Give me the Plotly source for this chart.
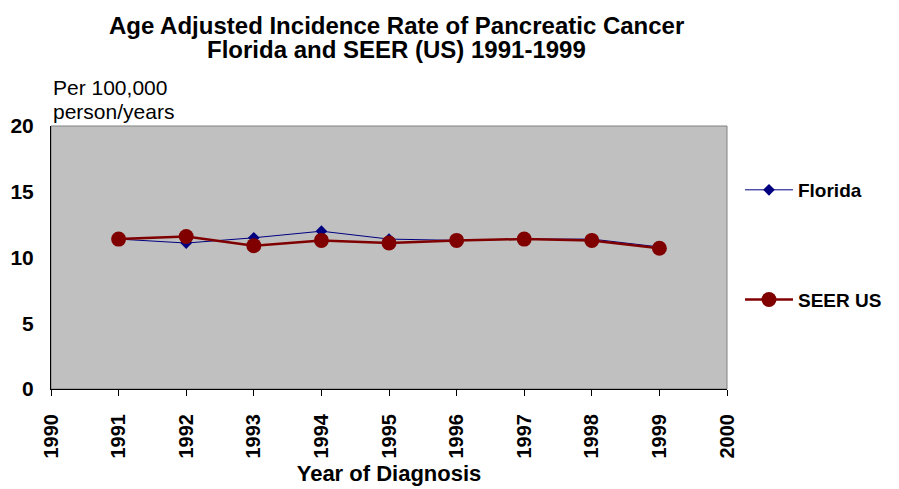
import plotly.graph_objects as go

years = [1991, 1992, 1993, 1994, 1995, 1996, 1997, 1998, 1999]
florida = [11.4, 11.1, 11.5, 12.0, 11.4, 11.3, 11.4, 11.4, 10.8]
seer_us = [11.4, 11.6, 10.9, 11.3, 11.1, 11.3, 11.4, 11.3, 10.7]
x_ticks = list(range(1990, 2001))
y_ticks = [0, 5, 10, 15, 20]
title_lines = ["Age Adjusted Incidence Rate of Pancreatic Cancer",
               "Florida and SEER (US) 1991-1999"]

font = "Liberation Sans, Arial, sans-serif"

fig = go.Figure()
fig.add_trace(go.Scatter(
    x=years, y=florida, name="<b>Florida</b>", mode="lines+markers",
    line=dict(color="#000080", width=1),
    marker=dict(symbol="diamond", size=9, color="#000080"),
    legendgroup="a",
))
fig.add_trace(go.Scatter(
    x=years, y=seer_us, name="<b>SEER US</b>", mode="lines+markers",
    line=dict(color="#800000", width=2.5),
    marker=dict(symbol="circle", size=15, color="#800000"),
    legendgroup="b",
))

fig.update_layout(
    width=891, height=481,
    margin=dict(l=43, r=172, t=118, b=100, autoexpand=False),
    paper_bgcolor="white",
    plot_bgcolor="#c0c0c0",
    font=dict(family=font, color="black"),
    showlegend=True,
    legend=dict(
        x=1.0192, y=0.829, xanchor="left", yanchor="top",
        font=dict(size=19, family=font),
        tracegroupgap=82, bgcolor="rgba(0,0,0,0)",
        traceorder="grouped", itemwidth=48,
    ),
    xaxis=dict(
        range=[1990, 2000], tickvals=x_ticks, ticktext=[f"<b>{t}</b>" for t in x_ticks],
        tickangle=-90, ticks="outside", ticklen=6, tickcolor="black",
        showgrid=False, zeroline=False, showline=True, linecolor="black", linewidth=1,
        tickfont=dict(size=20, family=font), ticklabelstandoff=10, automargin=False,
        title=dict(text="<b>Year of Diagnosis</b>", font=dict(size=22, family=font), standoff=8),
    ),
    yaxis=dict(
        range=[0, 20], tickvals=y_ticks, ticktext=[f"<b>{t}</b>" for t in y_ticks],
        showgrid=False, zeroline=False, showline=True, linecolor="black", linewidth=1,
        ticks="", tickfont=dict(size=21, family=font), ticklabelstandoff=12, automargin=False,
    ),
)

# plot-area border on top and right
fig.add_shape(type="rect", xref="paper", yref="paper", x0=0, y0=0, x1=1, y1=1,
              line=dict(color="#808080", width=1), layer="below")

# title, two tightly spaced lines
for line_text, ypos in zip(title_lines, [1.384, 1.291]):
    fig.add_annotation(
        text=f"<b>{line_text}</b>", xref="paper", yref="paper",
        x=0.5118, y=ypos, xanchor="center", yanchor="middle", showarrow=False,
        font=dict(size=24, family=font),
    )

fig.add_annotation(
    text="Per 100,000", xref="paper", yref="paper",
    x=0.0, y=1.1445, xanchor="left", yanchor="middle", showarrow=False,
    font=dict(size=21, family=font),
)
fig.add_annotation(
    text="person/years", xref="paper", yref="paper",
    x=0.0, y=1.057, xanchor="left", yanchor="middle", showarrow=False,
    font=dict(size=21, family=font),
)

fig.write_html("out.html")
